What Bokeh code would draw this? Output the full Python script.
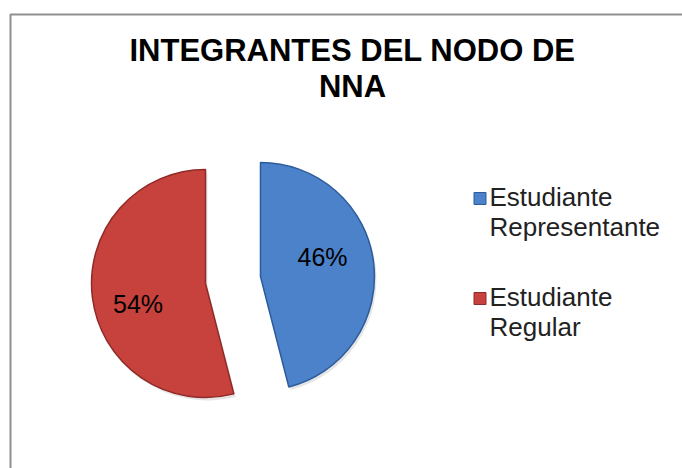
import numpy as np
from bokeh.plotting import figure
from bokeh.models import Range1d
from bokeh.core.properties import value
from bokeh.embed import file_html
from bokeh.resources import INLINE

# ---- data ----
title_lines = ["INTEGRANTES DEL NODO DE", "NNA"]
categories = [["Estudiante", "Representante"], ["Estudiante", "Regular"]]
values = [46, 54]
colors = ["#4c82c9", "#c8423d"]
edge_colors = ["#2d5c9c", "#8e2a27"]

W, H = 682, 468
FONT = "Liberation Sans"


def iy(y):
    # image row -> data y (data units == pixels)
    return H - y


p = figure(width=W, height=H, x_range=Range1d(0, W), y_range=Range1d(0, H),
           output_backend="svg", toolbar_location=None, min_border=0)
p.axis.visible = False
p.grid.visible = False
p.outline_line_color = None
p.background_fill_color = "white"
p.border_fill_color = "white"

# chart frame (cropped at right/bottom)
p.line(x=[10, 10, W + 5], y=[-5, iy(14), iy(14)],
       line_color="#8f8f8f", line_width=2)

# title
for k, (t, base) in enumerate(zip(title_lines, [50, 86])):
    p.text(x=[352], y=[iy(base)], text=[t], text_font=value(FONT),
           text_font_style="bold", text_font_size="31px", text_align="center",
           text_baseline="alphabetic", text_color="black")

# pie
cx, cy = 232.5, iy(279.5)
r = 114
explode = 27.7
total = float(sum(values))
start = np.pi / 2
label_frac = [0.57, 0.62]
label_rot = np.deg2rad(10)
for i, v in enumerate(values):
    frac = v / total
    end = start - frac * 2 * np.pi
    mid = (start + end) / 2
    ox = cx + explode * np.cos(mid)
    oy = cy + explode * np.sin(mid)
    # soft shadow
    p.wedge(x=[ox + 2], y=[oy - 3], radius=r, start_angle=start, end_angle=end,
            direction="clock", fill_color="#000000", fill_alpha=0.10,
            line_color=None)
    p.wedge(x=[ox], y=[oy], radius=r, start_angle=start, end_angle=end,
            direction="clock", fill_color=colors[i], line_color=edge_colors[i],
            line_width=1.5)
    la = mid + label_rot
    lx = ox + label_frac[i] * r * np.cos(la)
    ly = oy + label_frac[i] * r * np.sin(la)
    p.text(x=[lx], y=[ly], text=[f"{v}%"], text_font=value(FONT),
           text_font_size="25px", text_align="center", text_baseline="middle",
           text_color="black")
    start = end

# legend
leg_x = 479.5
leg_step = 100
for i, lines in enumerate(categories):
    sy = 198 + i * leg_step
    p.scatter(x=[leg_x], y=[iy(sy)], marker="square", size=12,
              fill_color=colors[i], line_color=edge_colors[i])
    for j, line in enumerate(lines):
        p.text(x=[489], y=[iy(sy - 2 + j * 30)], text=[line],
               text_font=value(FONT), text_font_size="26px",
               text_align="left", text_baseline="alphabetic",
               text_color="#222222")

open("out.html", "w").write(file_html(p, INLINE))
